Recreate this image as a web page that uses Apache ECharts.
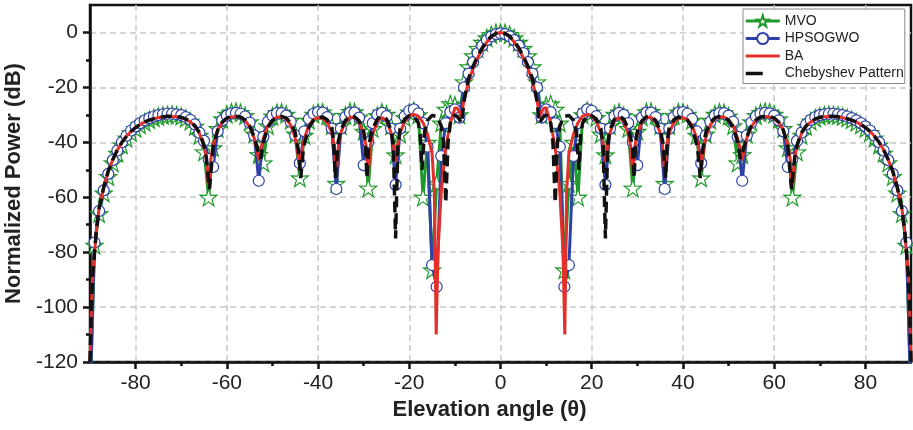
<!DOCTYPE html>
<html><head><meta charset="utf-8">
<script src="https://cdn.jsdelivr.net/npm/echarts@6/dist/echarts.min.js"></script>
<style>html,body{margin:0;padding:0;background:#fff}#c{width:913px;height:430px}</style>
</head><body><div id="c"></div>
<script>
const xTickLabels = [-80,-60,-40,-20,0,20,40,60,80];
const xMinorTicks = [-70,-50,-30,-10,10,30,50,70];
const yTickLabels = [-120,-100,-80,-60,-40,-20,0];
const yMinorTicks = [-110,-90,-70,-50,-30,-10];
const seriesNames = ['MVO','HPSOGWO','BA','Chebyshev Pattern'];

const markerAngles = [-90,-89,-88,-87,-86,-85,-84,-83,-82,-81,-80,-79,-78,-77,-76,-75,-74,-73,-72,-71,-70,-69,-68,-67,-66,-65,-64,-63,-62,-61,-60,-59,-58,-57,-56,-55,-54,-53,-52,-51,-50,-49,-48,-47,-46,-45,-44,-43,-42,-41,-40,-39,-38,-37,-36,-35,-34,-33,-32,-31,-30,-29,-28,-27,-26,-25,-24,-23,-22,-21,-20,-19,-18,-17,-16,-15,-14,-13,-12,-11,-10,-9,-8,-7,-6,-5,-4,-3,-2,-1,0,1,2,3,4,5,6,7,8,9,10,11,12,13,14,15,16,17,18,19,20,21,22,23,24,25,26,27,28,29,30,31,32,33,34,35,36,37,38,39,40,41,42,43,44,45,46,47,48,49,50,51,52,53,54,55,56,57,58,59,60,61,62,63,64,65,66,67,68,69,70,71,72,73,74,75,76,77,78,79,80,81,82,83,84,85,86,87,88,89,90];

const mvoValues = [
-135,-77.5,-66,-58.5,-52.5,-47.5,-44,-41,-38.5,-36.5,
-35,-33.7,-32.7,-31.8,-31.1,-30.6,-30.2,-30,-29.9,-30.1,
-30.5,-31.2,-32.3,-34.2,-37.5,-43.5,-60,-42,-35,-31.5,
-29.8,-29,-28.8,-29.2,-30.3,-32.6,-37,-44.5,-47.5,-34,
-30.5,-29.2,-29,-29.8,-32,-37,-53,-37.5,-32,-29.8,
-29,-29,-30.3,-34,-55,-34,-30.2,-28.8,-28.9,-30.8,
-36,-56.7,-35,-30.3,-29,-29.8,-34,-44.6,-37,-31,
-29,-28.5,-30,-60,-40,-86.5,-55,-33,-28,-26,
-26.5,-30,-18,-12.5,-8.5,-5.8,-3.6,-2,-0.8,-0.1,
0,
-0.1,-0.8,-2,-3.6,-5.8,-8.5,-12.5,-18,-30,-26.5,
-26,-28,-33,-86.5,-55,-40,-60,-30,-28.5,-29,
-31,-37,-44.6,-34,-29.8,-29,-30.3,-35,-56.7,-36,
-30.8,-28.9,-28.8,-30.2,-34,-55,-34,-30.3,-29,-29,
-29.8,-32,-37.5,-53,-37,-32,-29.8,-29,-29.2,-30.5,
-34,-47.5,-44.5,-37,-32.6,-30.3,-29.2,-28.8,-29,-29.8,
-31.5,-35,-42,-60,-43.5,-37.5,-34.2,-32.3,-31.2,-30.5,
-30.1,-29.9,-30,-30.2,-30.6,-31.1,-31.8,-32.7,-33.7,-35,
-36.5,-38.5,-41,-44,-47.5,-52.5,-58.5,-66,-77.5,-135];

const hpsogwoValues = [
-135,-76.5,-65,-57.5,-51.5,-46.5,-43,-40,-37.6,-35.7,
-34.2,-33,-32,-31.2,-30.6,-30.1,-29.8,-29.6,-29.6,-29.8,
-30.1,-30.8,-31.8,-33.5,-36.5,-39.5,-46,-49,-36,-32,
-30.3,-29.5,-29.3,-29.6,-30.6,-32.8,-37.5,-54,-38,-32.5,
-30.3,-29.4,-29.4,-30.3,-32.5,-37.5,-47.6,-36,-31.5,-29.6,
-29,-29.2,-30.8,-35,-57,-35,-30.8,-29.2,-29.2,-31,
-48.3,-40,-33,-30,-29.3,-30.5,-35,-55.5,-35,-30.5,
-28.5,-28,-29.5,-33,-41.6,-84.7,-92.6,-45,-33,-29,
-28,-31,-20,-15,-10.8,-7.5,-4.8,-2.8,-1.4,-0.6,
-0.3,
-0.6,-1.4,-2.8,-4.8,-7.5,-10.8,-15,-20,-31,-28,
-29,-33,-41.6,-92.6,-84.7,-45,-33,-29.5,-28,-28.5,
-30.5,-35,-55.5,-35,-30.5,-29.3,-30,-33,-40,-48.3,
-31,-29.2,-29.2,-30.8,-35,-57,-35,-30.8,-29.2,-29,
-29.6,-31.5,-36,-47.6,-37.5,-32.5,-30.3,-29.4,-29.4,-30.3,
-32.5,-38,-54,-37.5,-32.8,-30.6,-29.6,-29.3,-29.5,-30.3,
-32,-36,-49,-46,-39.5,-36.5,-33.5,-31.8,-30.8,-30.1,
-29.8,-29.6,-29.6,-29.8,-30.1,-30.6,-31.2,-32,-33,-34.2,
-35.7,-37.6,-40,-43,-46.5,-51.5,-57.5,-65,-76.5,-135];

const baAngles = [-90,-89.7,-89.4,-89,-88.5,-88,-87,-86,-85,-84,-83,-82,-81,-80,-79,-78,-77,-76,-75,-74,-73,-72,-71,-70,-69,-68,-67,-66,-65,-64.5,-64,-63.5,-63,-62,-61,-60,-59,-58,-57,-56,-55,-54,-53.5,-53,-52.5,-52,-51,-50,-49,-48,-47,-46,-45,-44.5,-44,-43.5,-43,-42,-41,-40,-39,-38,-37,-36.5,-36,-35.5,-35,-34,-33,-32,-31,-30,-29.5,-29,-28.5,-28,-27,-26,-25,-24,-23.5,-23,-22.5,-22,-21,-20,-19,-18,-17,-16,-15,-14.5,-14.1,-13.7,-13,-12,-11,-10,-9.5,-9,-8.6,-8,-7,-6,-5,-4,-3,-2,-1,0,
1,2,3,4,5,6,7,8,8.6,9,9.5,10,11,12,13,13.7,14.1,14.5,15,16,17,18,19,20,21,22,22.5,23,23.5,24,25,26,27,28,28.5,29,29.5,30,31,32,33,34,35,35.5,36,36.5,37,38,39,40,41,42,43,43.5,44,44.5,45,46,47,48,49,50,51,52,52.5,53,53.5,54,55,56,57,58,59,60,61,62,63,63.5,64,64.5,65,66,67,68,69,70,71,72,73,74,75,76,77,78,79,80,81,82,83,84,85,86,87,88,88.5,89,89.4,89.7,90];
const baValues = [-120,-100,-88,-80,-70.5,-64,-56.5,-50.5,-46.3,-42.8,-40,-37.8,-36,-34.6,-33.5,-32.6,-31.9,-31.4,-31,-30.8,-30.6,-30.6,-30.7,-31,-31.6,-32.6,-34.2,-36.8,-41.5,-46,-57,-46,-41,-35.5,-32.8,-31.4,-30.8,-30.6,-30.9,-32,-34.3,-38.5,-42,-46.5,-42,-38.5,-34,-31.8,-30.8,-30.7,-31.5,-33.7,-38.5,-43,-50,-43,-38.5,-33.8,-31.7,-31,-31.3,-32.8,-36.5,-40.5,-51,-40.5,-36.5,-32.5,-30.9,-30.9,-32.6,-37,-41,-52,-41,-37,-32.3,-31,-32,-36.5,-41,-47,-40.5,-36.5,-32.3,-30.3,-29.8,-30.5,-32.8,-37,-44,-58,-110,-80,-58,-42,-33,-27.5,-27.5,-29,-30.8,-24.5,-17.8,-13,-9.2,-6,-3.5,-1.6,-0.4,0,
-0.4,-1.6,-3.5,-6,-9.2,-13,-17.8,-24.5,-30.8,-29,-27.5,-27.5,-33,-42,-58,-80,-110,-58,-44,-37,-32.8,-30.5,-29.8,-30.3,-32.3,-36.5,-40.5,-47,-41,-36.5,-32,-31,-32.3,-37,-41,-52,-41,-37,-32.6,-30.9,-30.9,-32.5,-36.5,-40.5,-51,-40.5,-36.5,-32.8,-31.3,-31,-31.7,-33.8,-38.5,-43,-50,-43,-38.5,-33.7,-31.5,-30.7,-30.8,-31.8,-34,-38.5,-42,-46.5,-42,-38.5,-34.3,-32,-30.9,-30.6,-30.8,-31.4,-32.8,-35.5,-41,-46,-57,-46,-41.5,-36.8,-34.2,-32.6,-31.6,-31,-30.7,-30.6,-30.6,-30.8,-31,-31.4,-31.9,-32.6,-33.5,-34.6,-36,-37.8,-40,-42.8,-46.3,-50.5,-56.5,-64,-70.5,-80,-88,-100,-120];

const chebAngles = [-90,-89.7,-89.4,-89,-88.5,-88,-87,-86,-85,-84,-83,-82,-81,-80,-79,-78,-77,-76,-75,-74,-73,-72,-71,-70,-69,-68,-67,-66,-65,-64.5,-63.8,-63,-62,-61,-60,-59,-58,-57,-56,-55,-54,-53.2,-52.6,-52,-51,-50,-49,-48,-47,-46,-45,-44.3,-43.8,-43.2,-42,-41,-40,-39,-38,-37,-36.6,-36.2,-35.6,-35,-34,-33,-32,-31,-30,-29.6,-29.3,-28.9,-28,-27,-26,-25,-24,-23.5,-23,-22.5,-22,-21,-20,-19,-18,-17.6,-17.2,-16.7,-16,-15,-14,-13,-12.5,-12,-11.5,-11,-10.2,-9.5,-8.5,-8,-7,-6,-5,-4,-3,-2,-1,0,
1,2,3,4,5,6,7,8,8.5,9.5,10.2,11,11.5,12,12.5,13,14,15,16,16.7,17.2,17.6,18,19,20,21,22,22.5,23,23.5,24,25,26,27,28,28.9,29.3,29.6,30,31,32,33,34,35,35.6,36.2,36.6,37,38,39,40,41,42,43.2,43.8,44.3,45,46,47,48,49,50,51,52,52.6,53.2,54,55,56,57,58,59,60,61,62,63,63.8,64.5,65,66,67,68,69,70,71,72,73,74,75,76,77,78,79,80,81,82,83,84,85,86,87,88,88.5,89,89.4,89.7,90];
const chebValues = [-120,-100,-88,-80,-70.5,-64,-56.5,-50.5,-46.3,-42.8,-40,-37.8,-36,-34.6,-33.5,-32.6,-31.9,-31.4,-31,-30.7,-30.5,-30.5,-30.6,-30.9,-31.5,-32.5,-34,-36.5,-41,-45.5,-57,-41.5,-35.5,-32.6,-31.2,-30.6,-30.5,-30.8,-31.9,-34,-38,-43,-46,-40,-34.5,-32,-30.9,-30.6,-31.1,-32.9,-36.5,-43,-53,-42,-34.5,-32,-31,-30.8,-31.8,-34.5,-39,-53,-40,-35.5,-32,-30.6,-30.7,-32.2,-36,-40,-53,-41,-35,-31.5,-30.5,-31.5,-35.5,-41,-75,-41,-35,-31.5,-30.3,-30.5,-33,-37,-50,-37,-32,-30.2,-30.6,-34,-40,-62,-40,-33,-30.2,-30.5,-33,-25,-16.8,-12.2,-8.6,-5.6,-3.2,-1.4,-0.35,0,
-0.35,-1.4,-3.2,-5.6,-8.6,-12.2,-16.8,-25,-33,-30.5,-30.2,-33,-40,-62,-40,-34,-30.6,-30.2,-32,-37,-50,-37,-33,-30.5,-30.3,-31.5,-35,-41,-75,-41,-35.5,-31.5,-30.5,-31.5,-35,-41,-53,-40,-36,-32.2,-30.7,-30.6,-32,-35.5,-40,-53,-39,-34.5,-31.8,-30.8,-31,-32,-34.5,-42,-53,-43,-36.5,-32.9,-31.1,-30.6,-30.9,-32,-34.5,-40,-46,-43,-38,-34,-31.9,-30.8,-30.5,-30.6,-31.2,-32.6,-35.5,-41.5,-57,-45.5,-41,-36.5,-34,-32.5,-31.5,-30.9,-30.6,-30.5,-30.5,-30.7,-31,-31.4,-31.9,-32.6,-33.5,-34.6,-36,-37.8,-40,-42.8,-46.3,-50.5,-56.5,-64,-70.5,-80,-88,-100,-120];

function pairs(xs, ys){ return xs.map(function(x,i){ return [x, ys[i]]; }); }

const starPath = 'path://M50,0 L61.8,35.1 L97.6,34.5 L69,56.7 L79.4,90.5 L50,70 L20.6,90.5 L31,56.7 L2.4,34.5 L38.2,35.1 Z';
const FONT = '"Liberation Sans", Arial, sans-serif';

const chart = echarts.init(document.getElementById('c'), null, {renderer:'canvas'});
const gridDash = {color:'#c8c8c8', width:1.5, type:[6,4]};
chart.setOption({
  animation:false,
  backgroundColor:'#fff',
  grid:{left:90, right:2, top:5, bottom:68, show:true, borderColor:'#111', borderWidth:2.5, backgroundColor:'transparent', containLabel:false, outerBoundsMode:'none'},
  legend:{
    data:[
      {name:seriesNames[0], lineStyle:{width:3}},
      {name:seriesNames[1], lineStyle:{width:3}},
      {name:seriesNames[2], itemStyle:{opacity:0}, lineStyle:{width:3}},
      {name:seriesNames[3], itemStyle:{opacity:0}, lineStyle:{type:[17,40], width:3.5}}
    ],
    orient:'vertical', left:743, top:9,
    itemWidth:34, itemHeight:14, itemGap:3.5, padding:[5,1,3,1],
    backgroundColor:'#fff', borderColor:'#888', borderWidth:1, borderRadius:0,
    textStyle:{fontFamily:FONT, fontSize:14, color:'#222'}
  },
  xAxis:[{
    type:'value', min:-90, max:90, interval:10,
    name:'Elevation angle (θ)', nameLocation:'middle', nameGap:36,
    nameTextStyle:{fontFamily:FONT, fontSize:22, fontWeight:'bold', color:'#222', padding:[0,22,0,0]},
    axisLine:{show:true, onZero:false, lineStyle:{color:'#111', width:2.5}},
    axisTick:{show:true, inside:false, length:7, lineStyle:{color:'#111', width:2.5}, customValues:xTickLabels},
    axisLabel:{fontFamily:FONT, fontSize:21, color:'#222', margin:11, customValues:xTickLabels},
    splitLine:{show:true, lineStyle:gridDash}
  },{
    type:'value', min:-90, max:90, interval:10, position:'bottom',
    axisLine:{show:false, onZero:false}, axisLabel:{show:false}, splitLine:{show:false},
    axisTick:{show:true, inside:false, length:4, lineStyle:{color:'#111', width:2.5}, customValues:xMinorTicks}
  }],
  yAxis:[{
    type:'value', min:-120, max:10, interval:10,
    name:'Normalized Power (dB)', nameLocation:'middle', nameGap:62,
    nameTextStyle:{fontFamily:FONT, fontSize:22, fontWeight:'bold', color:'#222'},
    axisLine:{show:true, onZero:false, lineStyle:{color:'#111', width:2.5}},
    axisTick:{show:true, inside:false, length:7, lineStyle:{color:'#111', width:2.5}, customValues:yTickLabels},
    axisLabel:{fontFamily:FONT, fontSize:21, color:'#222', margin:12, customValues:yTickLabels},
    splitLine:{show:true, lineStyle:gridDash}
  },{
    type:'value', min:-120, max:10, interval:10, position:'left',
    axisLine:{show:false, onZero:false}, axisLabel:{show:false}, splitLine:{show:false},
    axisTick:{show:true, inside:false, length:4, lineStyle:{color:'#111', width:2.5}, customValues:yMinorTicks}
  }],
  series:[
    {name:seriesNames[0], type:'line', xAxisIndex:0, yAxisIndex:0, z:2,
     data:pairs(markerAngles, mvoValues), showSymbol:true, showAllSymbol:true,
     symbol:starPath, symbolSize:17, clip:true,
     lineStyle:{color:'#1f9a2a', width:3}, itemStyle:{color:'#fff', borderColor:'#1f9a2a', borderWidth:1.2}},
    {name:seriesNames[1], type:'line', xAxisIndex:0, yAxisIndex:0, z:3,
     data:pairs(markerAngles, hpsogwoValues), showSymbol:true, showAllSymbol:true,
     symbol:'circle', symbolSize:11, clip:true,
     lineStyle:{color:'#2f41a6', width:3}, itemStyle:{color:'#fff', borderColor:'#2f41a6', borderWidth:1.2}},
    {name:seriesNames[2], type:'line', xAxisIndex:0, yAxisIndex:0, z:4,
     data:pairs(baAngles, baValues), showSymbol:false, symbol:'none', clip:true,
     lineStyle:{color:'#e3302a', width:3}, itemStyle:{color:'#e3302a'}},
    {name:seriesNames[3], type:'line', xAxisIndex:0, yAxisIndex:0, z:5,
     data:pairs(chebAngles, chebValues), showSymbol:false, symbol:'none', clip:true,
     lineStyle:{color:'#111', width:3.5, type:[11,6]}, itemStyle:{color:'#111'}}
  ]
});
</script></body></html>
